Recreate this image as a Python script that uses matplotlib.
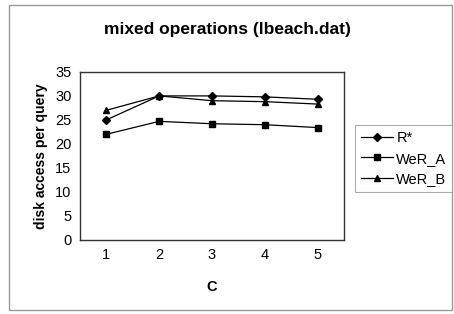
import matplotlib
matplotlib.use("Agg")
import matplotlib.pyplot as plt
from matplotlib.patches import Rectangle

plt.rcParams['font.family'] = ['Liberation Sans', 'DejaVu Sans']

c_values = [1, 2, 3, 4, 5]
r_star = [25.0, 30.0, 30.0, 29.8, 29.3]
wer_a = [22.0, 24.7, 24.2, 24.0, 23.4]
wer_b = [27.0, 30.0, 29.0, 28.8, 28.3]
y_ticks = [0, 5, 10, 15, 20, 25, 30, 35]

fig = plt.figure(figsize=(4.54, 3.14), dpi=100)
fig.patch.set_facecolor("white")
fig.patches.append(Rectangle((0.02, 0.012), 0.975, 0.972, transform=fig.transFigure,
                             fill=False, edgecolor="#999999", linewidth=1.0))

ax = fig.add_axes([0.176, 0.236, 0.582, 0.535])
ax.plot(c_values, r_star, color="black", linewidth=0.9, marker="D", markersize=4, label="R*")
ax.plot(c_values, wer_a, color="black", linewidth=0.9, marker="s", markersize=4.5, label="WeR_A")
ax.plot(c_values, wer_b, color="black", linewidth=0.9, marker="^", markersize=5, label="WeR_B")

ax.set_xlim(0.5, 5.5)
ax.set_ylim(0, 35)
ax.set_xticks(c_values)
ax.set_yticks(y_ticks)
ax.tick_params(axis="both", labelsize=10.5, length=0, pad=6)
for s in ax.spines.values():
    s.set_color("#333333")
    s.set_linewidth(1.0)

ax.set_xlabel("C", fontsize=10.5, fontweight="bold", labelpad=13)
ax.set_ylabel("disk access per query", fontsize=10, fontweight="bold", labelpad=5)
fig.text(0.5, 0.905, "mixed operations (lbeach.dat)", ha="center", va="center",
         fontsize=12.5, fontweight="bold")

leg = fig.legend(loc="center left", bbox_to_anchor=(0.783, 0.495), fontsize=10.5,
                 frameon=True, fancybox=False, handlelength=2.2, borderpad=0.4,
                 labelspacing=0.45, handletextpad=0.2, borderaxespad=0)
leg.get_frame().set_edgecolor("#999999")
leg.get_frame().set_linewidth(0.8)

fig.savefig("out.png", dpi=100)
